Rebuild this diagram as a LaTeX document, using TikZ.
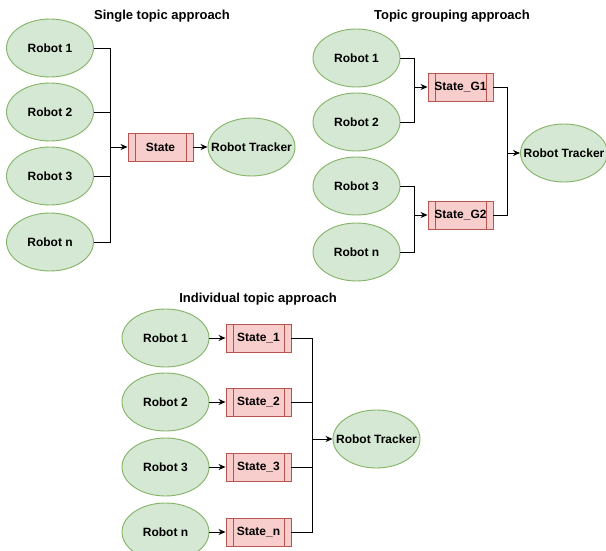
\documentclass[tikz,border=0pt]{standalone}
\usepackage{fontspec}
\setmainfont{Liberation Sans}
\usetikzlibrary{shapes.geometric,arrows.meta,positioning,calc}
\definecolor{robotfill}{HTML}{D5E8D4}
\definecolor{robotline}{HTML}{82B366}
\definecolor{statefill}{HTML}{F8CECC}
\definecolor{stateline}{HTML}{B85450}
\newcommand{\nowidth}[1]{\makebox[0pt]{#1}}

\begin{document}
\begin{tikzpicture}[x=1pt, y=-1pt,
    robot/.style={ellipse, draw=robotline, fill=robotfill, line width=0.9pt, minimum width=87pt, minimum height=58pt, inner sep=0pt, font=\fontsize{12}{14}\selectfont\bfseries},
    statebox/.style={rectangle, draw=stateline, fill=statefill, line width=0.9pt, minimum width=65pt, minimum height=28pt, inner sep=0pt, font=\fontsize{12}{14}\selectfont\bfseries,
        path picture={\draw[stateline, line width=0.9pt] ([xshift=7pt]path picture bounding box.north west) -- ([xshift=7pt]path picture bounding box.south west);
                      \draw[stateline, line width=0.9pt] ([xshift=-7pt]path picture bounding box.north east) -- ([xshift=-7pt]path picture bounding box.south east);}},
    heading/.style={font=\fontsize{13}{15}\selectfont\bfseries},
    arrow/.style={-{Stealth[length=7pt,width=6pt]}, line width=0.9pt, draw=black},
    line/.style={line width=0.9pt, draw=black}
]
    \useasboundingbox (0,0) rectangle (606,551);

    % single topic
    \node (h1) [heading] at (162,16) {Single topic approach};
    \node (a1) [robot] at (50,48) {Robot 1};
    \node (a2) [robot] at (50,112) {Robot 2};
    \node (a3) [robot] at (50,176) {Robot 3};
    \node (an) [robot] at (50,242) {Robot n};
    \node (ast) [statebox] at (160.5,147) {State};
    \node (atr) [robot] at (251.5,147) {\nowidth{Robot Tracker}};
    \coordinate (abus) at (110,147);

    \foreach \r in {a1,a2,a3,an}
        \draw [line] (\r.east) -| (abus);
    \draw [arrow] (abus) -- (ast.west);
    \draw [arrow] (ast) -- (atr);

    % topic grouping
    \node (h2) [heading] at (452,16) {Topic grouping approach};
    \node (b1) [robot] at (356.5,58) {Robot 1};
    \node (b2) [robot] at (356.5,122) {Robot 2};
    \node (b3) [robot] at (356.5,186) {Robot 3};
    \node (bn) [robot] at (356.5,252) {Robot n};
    \node (bg1) [statebox] at (460.5,87) {State\_G1};
    \node (bg2) [statebox] at (460.5,215) {State\_G2};
    \node (btr) [robot] at (564,153) {\nowidth{Robot Tracker}};
    \coordinate (bbus1) at (414,87);
    \coordinate (bbus2) at (414,215);
    \coordinate (bbus3) at (507,153);

    \draw [line] (b1.east) -| (bbus1);
    \draw [line] (b2.east) -| (bbus1);
    \draw [arrow] (bbus1) -- (bg1.west);
    \draw [line] (b3.east) -| (bbus2);
    \draw [line] (bn.east) -| (bbus2);
    \draw [arrow] (bbus2) -- (bg2.west);
    \draw [line] (bg1.east) -| (bbus3);
    \draw [line] (bg2.east) -| (bbus3);
    \draw [arrow] (bbus3) -- (btr.west);

    % individual topic
    \node (h3) [heading] at (258,299) {Individual topic approach};
    \node (c1) [robot] at (165.5,338) {Robot 1};
    \node (c2) [robot] at (165.5,402) {Robot 2};
    \node (c3) [robot] at (165.5,467) {Robot 3};
    \node (cn) [robot] at (165.5,532) {Robot n};
    \node (cs1) [statebox] at (258.5,338) {State\_1};
    \node (cs2) [statebox] at (258.5,402) {State\_2};
    \node (cs3) [statebox] at (258.5,467) {State\_3};
    \node (csn) [statebox] at (258.5,532) {State\_n};
    \node (ctr) [robot] at (376.5,439) {\nowidth{Robot Tracker}};
    \coordinate (cbus) at (312,439);

    \foreach \r/\s in {c1/cs1,c2/cs2,c3/cs3,cn/csn} {
        \draw [arrow] (\r) -- (\s);
        \draw [line] (\s.east) -| (cbus);
    }
    \draw [arrow] (cbus) -- (ctr.west);
\end{tikzpicture}
\end{document}
